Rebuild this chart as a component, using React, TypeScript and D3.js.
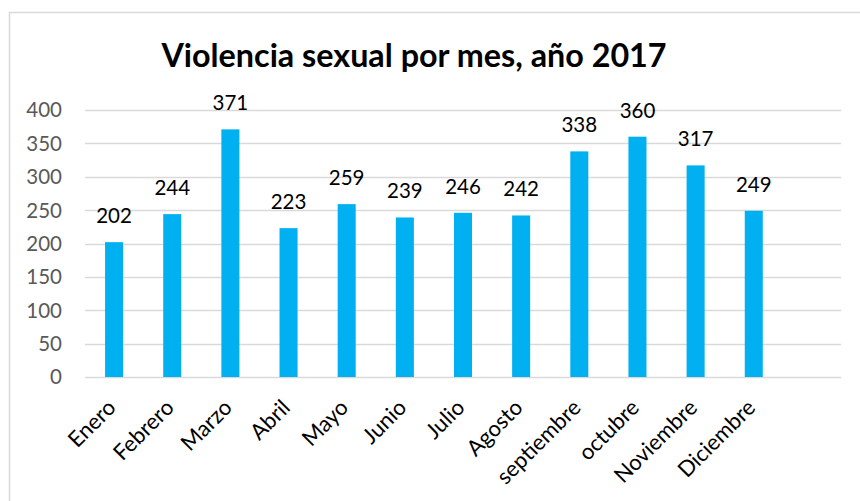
import * as d3 from "d3";
import { useEffect, useRef } from "react";

// datos del gráfico
const meses = ["Enero", "Febrero", "Marzo", "Abril", "Mayo", "Junio", "Julio", "Agosto", "septiembre", "octubre", "Noviembre", "Diciembre"];
const casos = [202, 244, 371, 223, 259, 239, 246, 242, 338, 360, 317, 249];
const ticksY = [0, 50, 100, 150, 200, 250, 300, 350, 400];
const titulo = "Violencia sexual por mes, año 2017";

const W = 860;
const H = 501;
const margin = { top: 110, bottom: 124, left: 85, right: 19 };
const FONT = "Lato, 'Open Sans', sans-serif";

const App = () => {
  const ref = useRef<SVGSVGElement>(null);

  useEffect(() => {
    const svg = d3.select(ref.current);
    svg.selectAll("*").remove();

    const innerW = W - margin.left - margin.right;
    const innerH = H - margin.top - margin.bottom;

    // el eje X tiene un hueco vacío al final, como en el original
    const x = d3.scaleBand().domain([...meses, ""]).range([0, innerW]).paddingInner(0.69).paddingOuter(0.345);
    const y = d3.scaleLinear().domain([0, 400]).range([innerH, 0]);

    // marco
    svg.append("rect")
      .attr("x", 9.5).attr("y", 12.5)
      .attr("width", W).attr("height", H)
      .attr("fill", "white").attr("stroke", "#d9d9d9").attr("stroke-width", 1.5);

    svg.append("text")
      .attr("x", 414).attr("y", 67)
      .attr("text-anchor", "middle")
      .style("font-family", FONT).style("font-weight", "bold").style("font-size", "32.3px")
      .attr("fill", "#000")
      .text(titulo);

    const g = svg.append("g").attr("transform", `translate(${margin.left},${margin.top})`);

    // líneas de cuadrícula
    g.selectAll(".grid").data(ticksY).enter().append("line")
      .attr("x1", 0).attr("x2", innerW)
      .attr("y1", d => Math.round(y(d)) + 0.5).attr("y2", d => Math.round(y(d)) + 0.5)
      .attr("stroke", "#d9d9d9").attr("stroke-width", 1.3);

    g.selectAll(".ytick").data(ticksY).enter().append("text")
      .attr("x", -23).attr("y", d => y(d))
      .attr("dy", "0.36em")
      .attr("text-anchor", "end")
      .style("font-family", FONT).style("font-size", "20.5px")
      .attr("fill", "#595959")
      .text(d => d);

    const bw = x.bandwidth();
    g.selectAll(".bar").data(casos).enter().append("rect")
      .attr("x", (d, i) => x(meses[i])!)
      .attr("y", d => y(d))
      .attr("width", bw)
      .attr("height", d => innerH - y(d))
      .attr("fill", "#00b0f0");

    g.selectAll(".lbl").data(casos).enter().append("text")
      .attr("x", (d, i) => x(meses[i])! + bw / 2)
      .attr("y", d => y(d) - 19)
      .attr("text-anchor", "middle")
      .style("font-family", FONT).style("font-size", "20.5px")
      .attr("fill", "#000")
      .text(d => d);

    g.selectAll(".xtick").data(meses).enter().append("text")
      .attr("transform", d => `translate(${x(d)! + bw / 2 + 3},${innerH + 32}) rotate(-45)`)
      .attr("text-anchor", "end")
      .style("font-family", FONT).style("font-size", "22px")
      .attr("fill", "#000")
      .text(d => d);
  }, []);

  return (
    <svg ref={ref} width={W} height={H} style={{ position: "absolute", left: 0, top: 0 }}></svg>
  );
};

export default App;
